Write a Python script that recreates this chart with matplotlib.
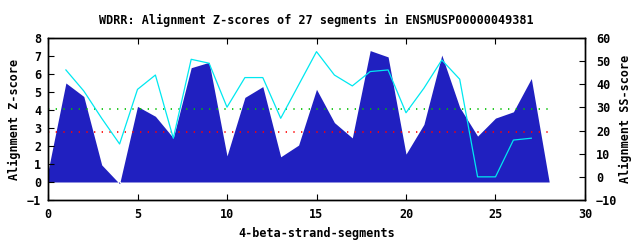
import matplotlib
matplotlib.use("Agg")
import matplotlib.pyplot as plt

# Z-scores per segment (filled area, left axis)
seg_x = [0, 1, 2, 3, 4, 5, 6, 7, 8, 9, 10, 11, 12, 13, 14,
         15, 16, 17, 18, 19, 20, 21, 22, 23, 24, 25, 26, 27, 28]
zscore = [0.6, 5.5, 4.75, 0.95, -0.1, 4.2, 3.65, 2.45, 6.35, 6.65, 1.45, 4.7, 5.3, 1.4, 2.05,
          5.15, 3.3, 2.45, 7.3, 6.95, 1.55, 3.2, 7.05, 4.15, 2.55, 3.55, 3.9, 5.75, 0.0]

# SS-scores (cyan line, right axis)
ss_x = [1, 2, 3, 4, 5, 6, 7, 8, 9, 10, 11, 12, 13, 14,
        15, 16, 17, 18, 19, 20, 21, 22, 23, 24, 25, 26, 27]
ss_score = [46.2, 37.1, 25.3, 14.2, 37.8, 44.0, 16.7, 50.8, 49.1, 30.1, 42.9, 42.9, 25.3, 39.7,
            54.1, 44.0, 39.3, 45.5, 46.2, 27.7, 38.3, 50.5, 42.2, 0.0, 0.0, 15.9, 16.7]

# threshold lines
green_level = 4.05
red_level = 2.77
line_x = [0, 28]

xticks = [0, 5, 10, 15, 20, 25, 30]
yticks = [-1, 0, 1, 2, 3, 4, 5, 6, 7, 8]
y2ticks = [-10, 0, 10, 20, 30, 40, 50, 60]

font = {'family': 'DejaVu Sans Mono', 'weight': 'bold', 'size': 8.5}

fig = plt.figure(figsize=(6.4, 2.4), dpi=100)
ax = fig.add_axes([48/640, 1-200/240, (585-48)/640, 162/240])
ax2 = ax.twinx()

ax.fill_between(seg_x, zscore, 0, color='#2020c0', linewidth=0)
ax.plot(line_x, [green_level]*2, color='#00c000', lw=1.2, dashes=(0.8, 3.8))
ax.plot(line_x, [red_level]*2, color='#ff0000', lw=1.2, dashes=(0.8, 3.8))
ax2.plot(ss_x, ss_score, color='#00e8f0', lw=0.9)

ax.set_xlim(0, 30)
ax.set_ylim(-1, 8)
ax2.set_ylim(-10, 60)
ax.set_xticks(xticks)
ax.set_yticks(yticks)
ax2.set_yticks(y2ticks)

ax.tick_params(axis='x', direction='in', top=True, length=4, width=0.8, pad=6)
ax.tick_params(axis='y', direction='in', right=False, length=4, width=0.8, pad=5)
ax2.tick_params(axis='y', direction='in', length=4, width=0.8, pad=8)
for lab in ax.get_xticklabels() + ax.get_yticklabels() + ax2.get_yticklabels():
    lab.set_fontproperties(matplotlib.font_manager.FontProperties(**font))

for a in (ax, ax2):
    for s in a.spines.values():
        s.set_linewidth(1.0)

ax.set_title('WDRR: Alignment Z-scores of 27 segments in ENSMUSP00000049381', fontdict=font, pad=10)
ax.set_xlabel('4-beta-strand-segments', fontdict=font, labelpad=4)
ax.set_ylabel('Alignment Z-score', fontdict=font, labelpad=4)
ax2.set_ylabel('Alignment SS-score', fontdict=font, labelpad=1)

fig.savefig('out.png', dpi=100)
